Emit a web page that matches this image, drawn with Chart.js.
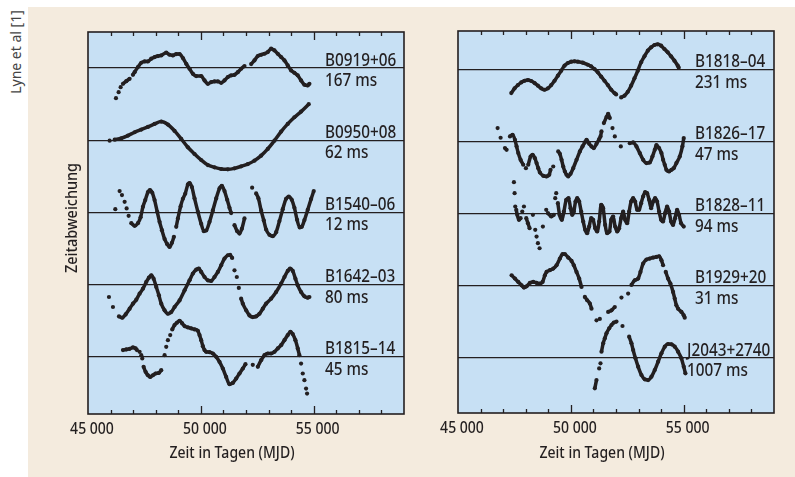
<!DOCTYPE html>
<html lang="de">
<head>
<meta charset="utf-8">
<title>Pulsar-Zeitabweichungen</title>
<script src="https://cdn.jsdelivr.net/npm/chart.js@4.4.1/dist/chart.umd.min.js"></script>
<style>
  body { margin: 0; background: #fff; }
  #page { position: relative; width: 795px; height: 477px; overflow: hidden; }
  #paper { position: absolute; left: 28px; top: 7px; right: 0; bottom: 0; background: #f4ebde; }
  #credit {
    position: absolute; left: 15px; top: 52px;
    transform: translate(-50%, -50%) rotate(-90deg);
    font: 14px "Noto Sans", sans-serif; color: #444; white-space: nowrap;
  }
  canvas { position: absolute; top: 0; }
  #chartLeft { left: 0; }
  #chartRight { left: 430px; }
</style>
</head>
<body>
<div id="page">
  <div id="paper"></div>
  <div id="credit">Lyne et al [1]</div>
  <canvas id="chartLeft" width="430" height="477"></canvas>
  <canvas id="chartRight" width="365" height="477"></canvas>
</div>
<script>
// x axis: Zeit in Tagen (MJD)
const mjdMin = 45000;
const mjdMax = 59000;
const mjdLabelTicks = [45000, 50000, 55000];

// pulsar names and periods, top to bottom
const leftNames = ['B0919+06', 'B0950+08', 'B1540–06', 'B1642–03', 'B1815–14'];
const leftPeriods = ['167 ms', '62 ms', '12 ms', '80 ms', '45 ms'];
const rightNames = ['B1818–04', 'B1826–17', 'B1828–11', 'B1929+20', 'J2043+2740'];
const rightPeriods = ['231 ms', '47 ms', '94 ms', '31 ms', '1007 ms'];

// timing residuals [MJD, residual in row units], null = gap in the record
const b0919 = [[46239,-0.417], null, [46357,-0.333], null, [46446,-0.264], null,
  [46549,-0.218],[46696,-0.181],[46844,-0.148], null,
  [46991,-0.093],[47065,-0.056],[47213,0.014],[47360,0.074],[47508,0.093],[47655,0.093],[47803,0.130],
  [47950,0.153],[48098,0.167],[48245,0.176],[48466,0.213],[48614,0.185],[48761,0.176],[48909,0.194],
  [49056,0.194],[49204,0.139],[49351,0.060],[49499,-0.009],[49646,-0.079],[49794,-0.111],[50015,-0.111],
  [50163,-0.171],[50310,-0.218],[50458,-0.194],[50605,-0.185],[50753,-0.185],[50900,-0.204],[51048,-0.171],
  [51195,-0.125],[51343,-0.102],[51490,-0.093],[51638,-0.056],[51785,-0.009],[51933,0.028], null,
  [52228,0.056],[52375,0.106],[52523,0.167],[52670,0.185],[52818,0.199],[52965,0.222],[53113,0.269],
  [53260,0.245],[53408,0.199],[53555,0.153],[53703,0.106],[53850,0.037],[53998,-0.032],[54145,-0.065],
  [54293,-0.102],[54440,-0.171],[54588,-0.231],[54735,-0.241],[54809,-0.218]];

const b0950 = [[45959,-0.005], null,
  [46180,0.009],[46475,0.028],[46770,0.065],[47065,0.111],[47360,0.148],[47655,0.185],[47950,0.227],
  [48245,0.259],[48540,0.218],[48835,0.130],[49130,0.019],[49425,-0.097],[49720,-0.190],[50015,-0.273],
  [50310,-0.343],[50605,-0.375],[50900,-0.398],[51195,-0.403],[51490,-0.389],[51785,-0.361],[52080,-0.329],
  [52375,-0.282],[52670,-0.213],[52965,-0.120],[53260,-0.005],[53555,0.120],[53850,0.227],[54145,0.319],
  [54440,0.397],[54780,0.500]];

const b1540 = [[46210,0.046], null, [46401,0.296], null, [46505,0.241], null, [46623,0.148], null,
  [46711,0.056], null, [46800,-0.046], null,
  [46918,-0.148],[47065,-0.185],[47213,-0.148],[47331,-0.065],[47434,0.079],[47537,0.171],[47655,0.282],
  [47744,0.310],[47847,0.273],[47950,0.171],[48068,0.009],[48171,-0.130],[48275,-0.245],[48393,-0.366],
  [48511,-0.440],[48614,-0.477],[48717,-0.421],[48806,-0.338], null,
  [48909,-0.199],[48983,-0.083],[49101,0.083],[49204,0.190],[49307,0.259],[49425,0.389],[49499,0.407],
  [49602,0.352],[49720,0.194],[49868,0.009],[50015,-0.157],[50133,-0.259],[50236,-0.250],[50384,-0.130],
  [50531,0.028],[50679,0.194],[50826,0.333],[50930,0.370],[51048,0.296],[51166,0.176],[51269,0.065],
  [51343,-0.009], null,
  [51490,-0.176],[51608,-0.259],[51711,-0.292],[51815,-0.227],[51933,-0.083], null,
  [52272,0.343], null,
  [52449,0.264],[52552,0.194],[52670,0.028],[52788,-0.111],[52891,-0.236],[53039,-0.310],[53186,-0.329],
  [53334,-0.273],[53481,-0.120],[53628,0.046],[53776,0.190],[53894,0.218],[54027,0.176],[54145,0.065],
  [54263,-0.102],[54381,-0.208],[54470,-0.199],[54588,-0.106],[54735,0.037],[54883,0.185],[55001,0.296]];

const b1642 = [[45929,-0.171], null, [46106,-0.310], null,
  [46372,-0.440],[46519,-0.458],[46667,-0.412],[46844,-0.333],[46991,-0.264],[47139,-0.208],[47286,-0.125],
  [47434,-0.056],[47581,0.037],[47699,0.097],[47803,0.130],[47906,0.083],[48024,-0.032],[48142,-0.148],
  [48245,-0.264],[48393,-0.356],[48540,-0.403],[48688,-0.380],[48835,-0.310],[49056,-0.218],[49278,-0.079],
  [49499,0.060],[49646,0.153],[49794,0.208],[49912,0.222],[50015,0.176],[50163,0.106],[50310,0.060],
  [50458,0.051],[50605,0.106],[50753,0.176],[50900,0.269],[51048,0.361],[51195,0.407],[51298,0.412],
  [51387,0.370], null, [51490,0.199], null, [51593,0.106], null, [51682,-0.046], null,
  [51785,-0.194],[51859,-0.264],[52006,-0.356],[52154,-0.426],[52301,-0.449],[52449,-0.440],[52596,-0.403],
  [52744,-0.333],[52891,-0.264],[53113,-0.194],[53334,-0.102],[53555,0.014],[53703,0.106],[53850,0.190],
  [53953,0.222],[54071,0.190],[54189,0.083],[54293,-0.009],[54440,-0.102],[54588,-0.162],[54735,-0.181],
  [54809,-0.171]];

const b1815 = [[46549,0.093],[46696,0.102],[46844,0.111],[46991,0.130],[47109,0.116],[47168,0.093], null,
  [47286,0.069], null, [47360,0.023], null, [47404,-0.023], null,
  [47463,-0.139],[47552,-0.208],[47655,-0.255],[47758,-0.278],[47876,-0.255],[47994,-0.231],[48142,-0.222],
  [48245,-0.185], null,
  [48393,0.023], null, [48466,0.139], null, [48540,0.231], null, [48643,0.301], null,
  [48732,0.380],[48835,0.440],[48938,0.472],[49056,0.500],[49174,0.463],[49278,0.426],[49425,0.407],
  [49573,0.394],[49720,0.380],[49868,0.361],[49941,0.301],[50015,0.231],[50089,0.148],[50163,0.093],
  [50236,0.069],[50384,0.065],[50531,0.046],[50679,0.000],[50826,-0.069],[50974,-0.162],[51121,-0.278],
  [51269,-0.380],[51416,-0.361],[51564,-0.301],[51711,-0.231],[51859,-0.162],[51977,-0.102], null,
  [52301,-0.111], null,
  [52523,-0.139],[52670,-0.046],[52818,0.023],[52965,0.046],[53113,0.046],[53260,0.069],[53408,0.116],
  [53555,0.162],[53703,0.231],[53850,0.301],[53968,0.347],[54071,0.315],[54189,0.231],[54293,0.116],
  [54366,0.023], null,
  [54440,-0.093], null, [54514,-0.231], null, [54588,-0.324], null, [54661,-0.440], null, [54706,-0.509]];

const b1818 = [[47360,-0.324],[47508,-0.259],[47655,-0.213],[47803,-0.176],[47950,-0.153],[48098,-0.144],
  [48245,-0.157],[48393,-0.185],[48540,-0.222],[48688,-0.259],[48835,-0.278],[48983,-0.259],[49130,-0.213],
  [49278,-0.153],[49425,-0.083],[49573,-0.014],[49720,0.056],[49868,0.093],[50015,0.111],[50163,0.116],
  [50310,0.111],[50531,0.097],[50753,0.069],[50900,0.046],[51048,0.009],[51195,-0.037],[51343,-0.097],
  [51490,-0.153],[51638,-0.213],[51785,-0.278],[51933,-0.324],[52006,-0.343], null,
  [52228,-0.384],[52375,-0.361],[52523,-0.306],[52670,-0.222],[52818,-0.120],[52965,-0.014],[53113,0.102],
  [53260,0.185],[53408,0.264],[53555,0.310],[53703,0.343],[53850,0.352],[53998,0.333],[54145,0.287],
  [54293,0.241],[54440,0.185],[54588,0.125],[54735,0.056],[54780,0.028]];

const b1826 = [[46755,0.190], null, [46888,0.056], null, [47080,-0.088],[47154,-0.111], null,
  [47301,0.074],[47419,0.097],[47522,0.028],[47596,-0.065],[47670,-0.157],[47773,-0.250],[47891,-0.319], null,
  [48009,-0.366], null,
  [48112,-0.319],[48216,-0.204],[48304,-0.181],[48407,-0.227],[48481,-0.296],[48555,-0.366],[48629,-0.426],
  [48776,-0.472],[48924,-0.481],[49042,-0.458],[49101,-0.389], null,
  [49219,-0.343], null,
  [49440,-0.134],[49514,-0.167],[49588,-0.250],[49662,-0.343],[49735,-0.412],[49809,-0.458],[49883,-0.481],
  [49986,-0.444],[50104,-0.366],[50251,-0.250],[50399,-0.134],[50517,-0.065],[50620,-0.009],[50694,0.028],
  [50812,-0.028],[50915,-0.065],[51018,-0.088],[51136,-0.028],[51254,0.037],[51313,0.074],[51357,0.144], null,
  [51461,0.259],[51579,0.343],[51652,0.389],[51726,0.329], null,
  [51844,0.190], null, [51947,0.074], null,
  [52213,-0.065], null,
  [52611,-0.019],[52759,-0.009],[52906,-0.065],[53054,-0.157],[53201,-0.250],[53349,-0.296],[53496,-0.287],
  [53614,-0.204],[53718,-0.111],[53791,-0.046],[53909,-0.088],[54013,-0.157],[54087,-0.250],[54160,-0.319],
  [54234,-0.389],[54352,-0.412],[54455,-0.389],[54558,-0.366],[54676,-0.296],[54824,-0.204],[54942,-0.065],
  [55001,0.051]];

const b1828 = [[47478,0.440], null, [47508,0.287], null, [47537,0.102], null,
  [47581,0.056],[47626,-0.014],[47699,-0.083],[47773,-0.060], null,
  [47847,0.032], null, [47921,0.102], null,
  [48024,-0.060],[48098,-0.130],[48171,-0.199], null,
  [48319,-0.014], null,
  [48422,-0.222], null, [48481,-0.315], null, [48540,-0.407], null, [48614,-0.477], null,
  [48761,-0.176], null, [48909,0.056], null,
  [48983,0.009],[49130,-0.037],[49248,-0.014], null,
  [49307,0.218], null, [49351,0.287], null,
  [49425,0.148],[49499,-0.014],[49602,-0.083],[49691,0.032],[49794,0.194],[49897,0.218],[49986,0.079],
  [50060,-0.014],[50133,0.032],[50207,0.171],[50281,0.218],[50369,0.171],[50458,0.032],[50546,-0.106],
  [50635,-0.222],[50723,-0.269],[50812,-0.176],[50900,-0.060],[50989,-0.083],[51077,-0.199],[51166,-0.245],
  [51254,-0.106],[51343,0.125],[51431,0.079],[51520,-0.153],[51608,-0.269],[51711,-0.245],[51785,-0.083],
  [51874,-0.037],[51962,-0.176],[52051,-0.245],[52139,-0.199],[52228,-0.060],[52316,0.032],[52405,-0.083],
  [52493,-0.130],[52582,0.032],[52670,0.171],[52759,0.218],[52847,0.171],[52936,0.056],[53024,0.056],
  [53113,0.148],[53201,0.241],[53290,0.301],[53378,0.287],[53467,0.194],[53555,0.079],[53644,0.171],
  [53732,0.218],[53821,0.171],[53909,0.032],[53998,-0.083],[54086,-0.106],[54175,0.009],[54263,0.102],
  [54352,0.032],[54440,-0.106],[54529,-0.153],[54617,-0.060],[54706,0.056],[54794,-0.014],[54883,-0.130],
  [55001,-0.176]];

const b1929 = [[47375,0.148],[47522,0.102],[47670,0.056],[47817,0.009],[47921,-0.023],[48039,-0.005],
  [48186,0.042],[48334,0.056],[48481,0.042],[48629,0.032],[48747,0.056],[48850,0.148],[48924,0.194],
  [49071,0.218],[49219,0.241],[49366,0.287],[49514,0.380],[49632,0.440],[49735,0.440],[49883,0.394],
  [50030,0.347],[50133,0.287],[50251,0.194],[50369,0.102],[50472,-0.014], null,
  [50620,-0.153],[50723,-0.199],[50841,-0.245],[50915,-0.315], null,
  [51136,-0.477], null, [51284,-0.458], null,
  [51652,-0.361],[51800,-0.338],[51947,-0.292], null,
  [52242,-0.162], null, [52537,-0.106], null,
  [52685,0.014],[52832,0.079],[52980,0.102],[53083,0.194],[53201,0.310],[53349,0.366],[53496,0.380],
  [53644,0.394],[53791,0.403],[53909,0.412],[54013,0.356],[54086,0.287], null,
  [54204,0.194],[54307,0.102],[54411,0.032],[54529,-0.083],[54602,-0.176],[54676,-0.269],[54750,-0.315],
  [54897,-0.361],[55001,-0.407],[55045,-0.440]];

const j2043 = [[51062,-0.421],[51136,-0.306], null,
  [51254,-0.144], null, [51313,-0.074], null,
  [51357,0.088],[51431,0.204],[51505,0.273],[51579,0.343],[51697,0.412],[51800,0.458],[51903,0.491],
  [52021,0.505], null,
  [52287,0.444], null,
  [52582,0.296],[52685,0.204],[52759,0.111],[52862,-0.005],[52980,-0.120],[53127,-0.236],[53275,-0.296],
  [53422,-0.306],[53570,-0.259],[53717,-0.167],[53865,-0.051],[54013,0.065],[54160,0.157],[54307,0.194],
  [54455,0.190],[54602,0.157],[54750,0.088],[54897,-0.005],[55001,-0.120],[55075,-0.213]];

const ink = '#231f20';
const panelBlue = '#c7e0f4';
const textFamily = '"Noto Sans", sans-serif';
const squeeze = 0.85; // condensed look of the original lettering

// turn [mjd, res] pairs into points on row "offset"; null breaks the line
function toPoints(series, offset) {
    const pts = [];
    let lastX = mjdMin;
    series.forEach(p => {
        if (p === null) {
            pts.push({ x: lastX, y: null });
            return;
        }
        lastX = p[0];
        pts.push({ x: p[0], y: p[1] + offset });
    });
    return pts;
}

function formatMjd(v) {
    return String(v).replace(/(\d)(?=(\d{3})+$)/g, '$1 ');
}

function drawText(ctx, text, x, y, size, align, angle) {
    ctx.save();
    ctx.font = '500 ' + size + 'px ' + textFamily;
    ctx.fillStyle = ink;
    ctx.textAlign = align;
    ctx.textBaseline = 'alphabetic';
    ctx.translate(x, y);
    if (angle) ctx.rotate(angle);
    ctx.scale(squeeze, 1);
    ctx.fillText(text, 0, 0);
    ctx.restore();
}

// draws blue panel, inner ticks, frame and the text around it
const panelPlugin = {
    id: 'panel',
    beforeDraw(chart) {
        const { ctx, chartArea: a } = chart;
        ctx.save();
        ctx.fillStyle = panelBlue;
        ctx.fillRect(a.left, a.top, a.width, a.height);
        ctx.restore();
    },
    afterDraw(chart, args, opts) {
        const { ctx, chartArea: a, scales } = chart;
        const x = scales.x;
        const y = scales.y;
        ctx.save();
        ctx.strokeStyle = ink;
        ctx.lineWidth = 1.3;
        for (let v = mjdMin + 1000; v < mjdMax; v += 1000) {
            const px = Math.round(x.getPixelForValue(v)) + 0.5;
            const len = v % 5000 === 0 ? 8 : 4;
            ctx.beginPath();
            ctx.moveTo(px, a.top);
            ctx.lineTo(px, a.top + len);
            ctx.moveTo(px, a.bottom);
            ctx.lineTo(px, a.bottom - len);
            ctx.stroke();
        }
        ctx.lineWidth = 1.6;
        ctx.strokeRect(a.left, a.top, a.width, a.height);
        ctx.restore();

        // tick labels
        mjdLabelTicks.forEach(v => {
            drawText(ctx, formatMjd(v), x.getPixelForValue(v) + 4, a.bottom + 19.5, 16.5, 'center');
        });

        // pulsar name above, period below the zero line
        opts.names.forEach((name, i) => {
            const yLine = y.getPixelForValue(4 - i);
            const lx = a.right - opts.insets[i];
            drawText(ctx, name, lx, yLine - 2.5, 18, 'left');
            drawText(ctx, opts.periods[i], lx, yLine + 18, 18, 'left');
        });

        drawText(ctx, 'Zeit in Tagen (MJD)', a.left + 144, 458, 16.5, 'center');

        if (opts.yTitle) {
            drawText(ctx, opts.yTitle, 76.5, 218, 17, 'center', -Math.PI / 2);
        }
    }
};

function makePanel(canvasId, seriesList, names, periods, layout) {
    const datasets = seriesList.map((s, i) => ({
        data: toPoints(s, 4 - i),
        borderColor: ink,
        backgroundColor: ink,
        borderWidth: 3.5,
        pointRadius: 2.1,
        pointBorderWidth: 0,
        pointBackgroundColor: ink,
        cubicInterpolationMode: 'monotone',
        spanGaps: false
    }));

    return new Chart(document.getElementById(canvasId), {
        type: 'line',
        data: { datasets: datasets },
        options: {
            responsive: false,
            animation: false,
            events: [],
            layout: { padding: layout.padding },
            plugins: {
                legend: { display: false },
                tooltip: { enabled: false },
                panel: { names: names, periods: periods, insets: layout.insets, yTitle: layout.yTitle }
            },
            scales: {
                x: {
                    type: 'linear',
                    min: mjdMin,
                    max: mjdMax,
                    grid: { display: false, drawTicks: false },
                    border: { display: false },
                    ticks: { display: false },
                    afterFit: s => { s.height = layout.axisHeight; }
                },
                y: {
                    type: 'linear',
                    min: layout.yMin,
                    max: layout.yMax,
                    afterBuildTicks: s => { s.ticks = [0, 1, 2, 3, 4].map(v => ({ value: v })); },
                    grid: { color: ink, lineWidth: 1.3, drawTicks: false },
                    border: { display: false },
                    ticks: { display: false },
                    afterFit: s => { s.width = 0; }
                }
            }
        },
        plugins: [panelPlugin]
    });
}

makePanel('chartLeft', [b0919, b0950, b1540, b1642, b1815], leftNames, leftPeriods, {
    padding: { left: 88, top: 32, right: 26, bottom: 0 },
    axisHeight: 63,
    yMin: -0.792,
    yMax: 4.5,
    insets: [79, 79, 79, 79, 79],
    yTitle: 'Zeitabweichung'
});

makePanel('chartRight', [b1818, b1826, b1828, b1929, j2043], rightNames, rightPeriods, {
    padding: { left: 28, top: 31, right: 21, bottom: 0 },
    axisHeight: 64,
    yMin: -0.763,
    yMax: 4.537,
    insets: [79, 79, 79, 79, 87],
    yTitle: null
});
</script>
</body>
</html>
